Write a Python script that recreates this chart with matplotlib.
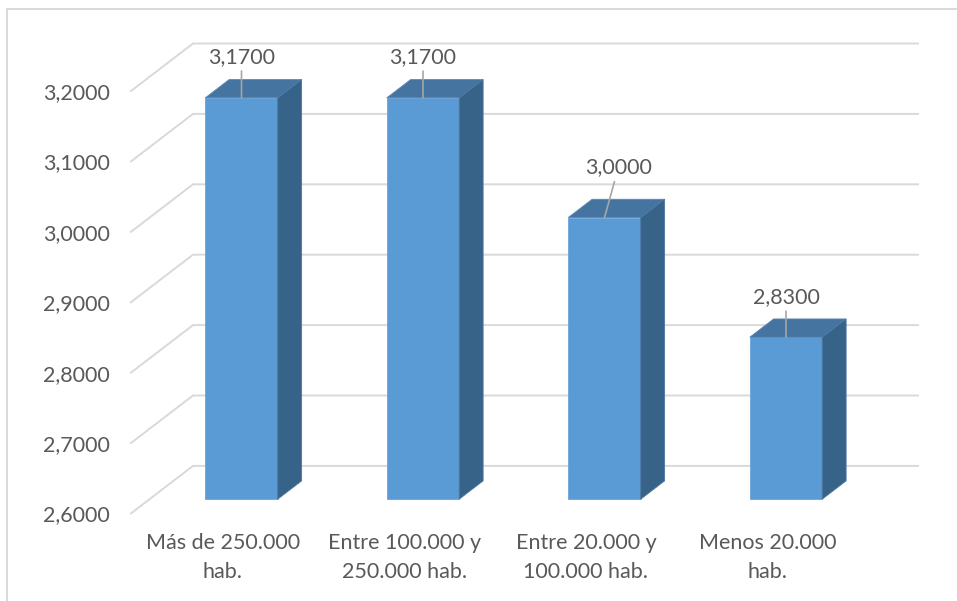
import matplotlib
matplotlib.use("Agg")
import matplotlib.pyplot as plt
from matplotlib.patches import Polygon
from matplotlib.lines import Line2D

categories = ["Más de 250.000\nhab.", "Entre 100.000 y\n250.000 hab.",
              "Entre 20.000 y\n100.000 hab.", "Menos 20.000\nhab."]
values = [3.17, 3.17, 3.00, 2.83]
y_ticks = [2.6, 2.7, 2.8, 2.9, 3.0, 3.1, 3.2]

FACE = "#5B9BD5"
TOP = "#4674A0"
SIDE = "#386389"
GRID = "#D9D9D9"
TEXT = "#595959"

plt.rcParams["font.family"] = ["Lato", "DejaVu Sans"]

W, H = 957, 601
AX_L, AX_R, AX_T, AX_B = 131, 918, 43.5, 516      # plot box, pixels
PX_X, PX_Y = 181.5, 704                           # px per category / per unit
X0 = 284.9                                        # back-wall centre of first category, px
DX, DY = 62 / PX_X, 47.5 / PX_Y                   # full-depth oblique shift
D_FRONT, D_BACK = 0.70, 0.315                     # bar depth slab
HW = 36.25 / PX_X                                 # half bar width
WALL_X = (193 - X0) / PX_X
FS = 15.5


def fmt(v):
    return f"{v:.4f}".replace(".", ",")


def proj(x, y, d):
    return (x - DX * d, y - DY * d)


fig = plt.figure(figsize=(W / 100, H / 100), dpi=100)
ax = fig.add_axes([AX_L / W, 1 - AX_B / H, (AX_R - AX_L) / W, (AX_B - AX_T) / H])
ax.set_xlim((AX_L - X0) / PX_X, (AX_R - X0) / PX_X)
ax.set_ylim(y_ticks[-1] - (AX_B - AX_T) / PX_Y, y_ticks[-1])
ax.patch.set_alpha(0)
for s in ax.spines.values():
    s.set_visible(False)

# side wall + back wall gridlines
xmax = ax.get_xlim()[1]
for v in y_ticks:
    ax.plot([WALL_X - DX, WALL_X, xmax], [v - DY, v, v], color=GRID, lw=1.4,
            clip_on=False, zorder=1, solid_joinstyle="miter")

base = y_ticks[0]
for i, v in enumerate(values):
    fl, fr = proj(i - HW, v, D_FRONT), proj(i + HW, v, D_FRONT)
    bl, br = proj(i - HW, v, D_BACK), proj(i + HW, v, D_BACK)
    fbr = proj(i + HW, base, D_FRONT)
    bbr = proj(i + HW, base, D_BACK)
    fbl = proj(i - HW, base, D_FRONT)
    ax.add_patch(Polygon([fbl, fl, fr, fbr], closed=True, fc=FACE, ec="#6aa5da", lw=0.6, zorder=3))
    ax.add_patch(Polygon([fl, fr, br, bl], closed=True, fc=TOP, ec="#5a87b3", lw=0.6, zorder=3))
    ax.add_patch(Polygon([fr, br, bbr, fbr], closed=True, fc=SIDE, ec="#4b77a0", lw=0.6, zorder=3))

# data labels with leader lines
label_offsets = [(0, 29.5), (0, 29.5), (10, 36), (0, 29)]
for i, (v, off) in enumerate(zip(values, label_offsets)):
    ax.annotate(fmt(v), xy=proj(i, v, D_FRONT), xytext=off, textcoords="offset points",
                ha="center", va="center", fontsize=FS, color=TEXT,
                arrowprops=dict(arrowstyle="-", color="#A6A6A6", lw=1.2,
                                shrinkA=1, shrinkB=0), zorder=5)

ax.set_yticks([v - DY for v in y_ticks])
ax.set_yticklabels([fmt(v) for v in y_ticks])
ax.set_xticks([i - DX for i in range(len(categories))])
ax.set_xticklabels(categories)
ax.tick_params(axis="both", length=0, labelsize=FS, labelcolor=TEXT)
ax.tick_params(axis="y", pad=15)
ax.tick_params(axis="x", pad=12)
for t in ax.get_xticklabels():
    t.set_linespacing(1.6)

# chart area border (top and left edges)
fig.add_artist(Line2D([7 / W, 7 / W, 1], [0, 1 - 9 / H, 1 - 9 / H], color=GRID, lw=1.4))

fig.savefig("out.png", dpi=100)
